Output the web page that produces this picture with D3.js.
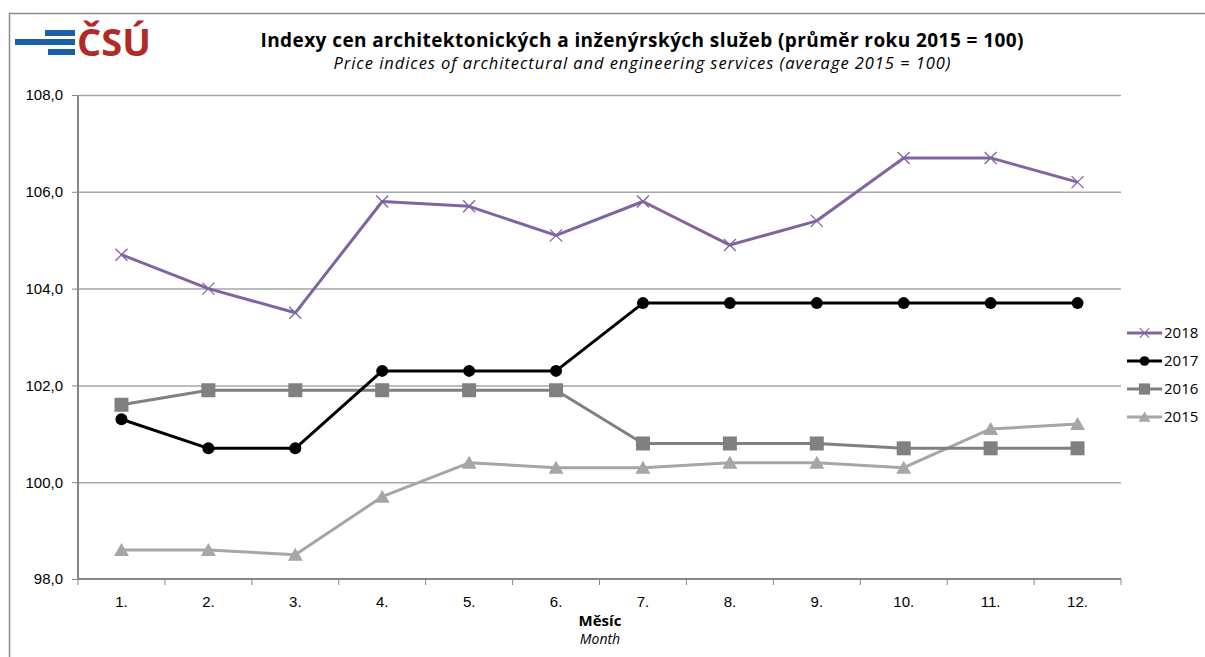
<!DOCTYPE html>
<html>
<head>
<meta charset="utf-8">
<script src="https://cdn.jsdelivr.net/npm/d3@7"></script>
<style>
  body { margin: 0; background: #fff; }
  svg { display: block; font-family: "Open Sans", "DejaVu Sans", sans-serif; }
</style>
</head>
<body>
<div id="chart"></div>
<script>
// data
var months = ["1.", "2.", "3.", "4.", "5.", "6.", "7.", "8.", "9.", "10.", "11.", "12."];
var years = ["2018", "2017", "2016", "2015"];
var v2018 = [104.7, 104.0, 103.5, 105.8, 105.7, 105.1, 105.8, 104.9, 105.4, 106.7, 106.7, 106.2];
var v2017 = [101.3, 100.7, 100.7, 102.3, 102.3, 102.3, 103.7, 103.7, 103.7, 103.7, 103.7, 103.7];
var v2016 = [101.6, 101.9, 101.9, 101.9, 101.9, 101.9, 100.8, 100.8, 100.8, 100.7, 100.7, 100.7];
var v2015 = [98.6, 98.6, 98.5, 99.7, 100.4, 100.3, 100.3, 100.4, 100.4, 100.3, 101.1, 101.2];
var yTicks = [98, 100, 102, 104, 106, 108];

var series = [
  {name: years[0], values: v2018, color: "#8064A2", marker: "cross"},
  {name: years[1], values: v2017, color: "#000000", marker: "circle"},
  {name: years[2], values: v2016, color: "#808080", marker: "square"},
  {name: years[3], values: v2015, color: "#A6A6A6", marker: "triangle"}
];

var W = 1205, H = 657;
var margin = {top: 95, right: 84, bottom: 78, left: 78};
var width = W - margin.left - margin.right,
    height = H - margin.top - margin.bottom;

var svg = d3.select("#chart").append("svg")
    .attr("width", W)
    .attr("height", H);

// outer frame
svg.append("path")
    .attr("d", "M9.5," + H + "V13.5H" + W)
    .attr("fill", "none")
    .attr("stroke", "#8c8c8c")
    .attr("stroke-width", 1.5);

// logo
var logo = svg.append("g").attr("transform", "translate(15,29)");
logo.append("rect").attr("x", 0).attr("y", 10).attr("width", 60).attr("height", 6).attr("fill", "#1B5FA6");
logo.append("rect").attr("x", 30).attr("y", 1).attr("width", 30).attr("height", 6).attr("fill", "#1B5FA6");
logo.append("rect").attr("x", 33).attr("y", 20).attr("width", 27).attr("height", 6).attr("fill", "#1B5FA6");
logo.append("text")
    .attr("x", 62).attr("y", 27)
    .attr("font-size", 38).attr("font-weight", 700)
    .attr("fill", "#B22A27")
    .text("ČSÚ");

// titles
svg.append("text")
    .attr("x", 642).attr("y", 47)
    .attr("text-anchor", "middle")
    .attr("font-size", 19).attr("font-weight", 700)
    .attr("textLength", 763)
    .text("Indexy cen architektonických a inženýrských služeb (průměr roku 2015 = 100)");
svg.append("text")
    .attr("x", 642).attr("y", 69)
    .attr("text-anchor", "middle")
    .attr("font-size", 16.5).attr("font-style", "italic")
    .attr("textLength", 617)
    .text("Price indices of architectural and engineering services (average 2015 = 100)");

var g = svg.append("g").attr("transform", "translate(" + margin.left + "," + margin.top + ")");

var x = d3.scaleBand().domain(months).range([0, width]);
var y = d3.scaleLinear().domain([98, 108]).range([height, 0]);

// gridlines
g.append("g").selectAll("line")
    .data(yTicks.slice(1))
    .enter().append("line")
    .attr("x1", 0).attr("x2", width)
    .attr("y1", function(d) { return y(d) + 0.5; })
    .attr("y2", function(d) { return y(d) + 0.5; })
    .attr("stroke", "#a6a6a6").attr("stroke-width", 1.5);

// y axis
var yAxis = g.append("g")
    .call(d3.axisLeft(y).tickValues(yTicks).tickSize(6).tickPadding(9)
        .tickFormat(function(d) { return d3.format(".1f")(d).replace(".", ","); }));
yAxis.attr("font-size", null);
yAxis.select(".domain").attr("stroke", "#868686").attr("stroke-width", 2).attr("d", "M0,0V" + height);
yAxis.selectAll(".tick line").attr("stroke", "#868686").attr("x1", -6).attr("x2", 0);
yAxis.selectAll("text").style("font-size", "15px").attr("fill", "#000");

// x axis
var xAxis = g.append("g").attr("transform", "translate(0," + height + ")")
    .call(d3.axisBottom(x).tickSize(0).tickPadding(17));
xAxis.attr("font-size", null);
xAxis.select(".domain").attr("stroke", "#868686").attr("stroke-width", 2).attr("d", "M0,0H" + width);
xAxis.selectAll("text").style("font-size", "15px").attr("fill", "#000");
g.append("g").attr("transform", "translate(0," + height + ")")
    .selectAll("line")
    .data(d3.range(months.length + 1))
    .enter().append("line")
    .attr("x1", function(i) { return i * x.step(); })
    .attr("x2", function(i) { return i * x.step(); })
    .attr("y1", 0).attr("y2", 6)
    .attr("stroke", "#868686");

// axis titles
svg.append("text")
    .attr("x", 600).attr("y", 626)
    .attr("text-anchor", "middle")
    .attr("font-size", 15).attr("font-weight", 700)
    .text("Měsíc");
svg.append("text")
    .attr("x", 600).attr("y", 644)
    .attr("text-anchor", "middle")
    .attr("font-size", 14).attr("font-style", "italic")
    .text("Month");

function drawMarker(sel, type, color) {
  if (type === "circle") {
    sel.append("circle").attr("r", 6).attr("fill", color);
  } else if (type === "square") {
    sel.append("rect").attr("x", -7).attr("y", -7).attr("width", 14).attr("height", 14).attr("fill", color);
  } else if (type === "triangle") {
    sel.append("path").attr("d", "M0,-7L7.5,6L-7.5,6Z").attr("fill", color);
  } else {
    sel.append("path").attr("d", "M-6,-6L6,6M-6,6L6,-6")
        .attr("stroke", color).attr("stroke-width", 1.3).attr("fill", "none");
  }
}

var line = d3.line()
    .x(function(d, i) { return x(months[i]) + x.bandwidth() / 2; })
    .y(function(d) { return y(d); });

// draw bottom series first so 2018 sits on top
series.slice().reverse().forEach(function(s) {
  var sg = g.append("g");
  sg.append("path")
      .attr("d", line(s.values))
      .attr("fill", "none")
      .attr("stroke", s.color)
      .attr("stroke-width", 3)
      .attr("stroke-linejoin", "round");
  sg.selectAll(".pt")
      .data(s.values)
      .enter().append("g")
      .attr("class", "pt")
      .attr("transform", function(d, i) {
        return "translate(" + (x(months[i]) + x.bandwidth() / 2) + "," + y(d) + ")";
      })
      .each(function() { drawMarker(d3.select(this), s.marker, s.color); });
});

// legend
var legend = svg.append("g").attr("transform", "translate(1127,333)");
var li = legend.selectAll(".li")
    .data(series)
    .enter().append("g")
    .attr("class", "li")
    .attr("transform", function(d, i) { return "translate(0," + (i * 28) + ")"; });
li.append("line").attr("x1", 0).attr("x2", 35).attr("y1", 0).attr("y2", 0)
    .attr("stroke", function(d) { return d.color; }).attr("stroke-width", 3);
li.each(function(d) {
  var m = d3.select(this).append("g").attr("transform", "translate(17.5,0) scale(0.8)");
  drawMarker(m, d.marker, d.color);
});
li.append("text").attr("x", 37).attr("dy", "0.35em")
    .attr("font-size", 15)
    .text(function(d) { return d.name; });
</script>
</body>
</html>
